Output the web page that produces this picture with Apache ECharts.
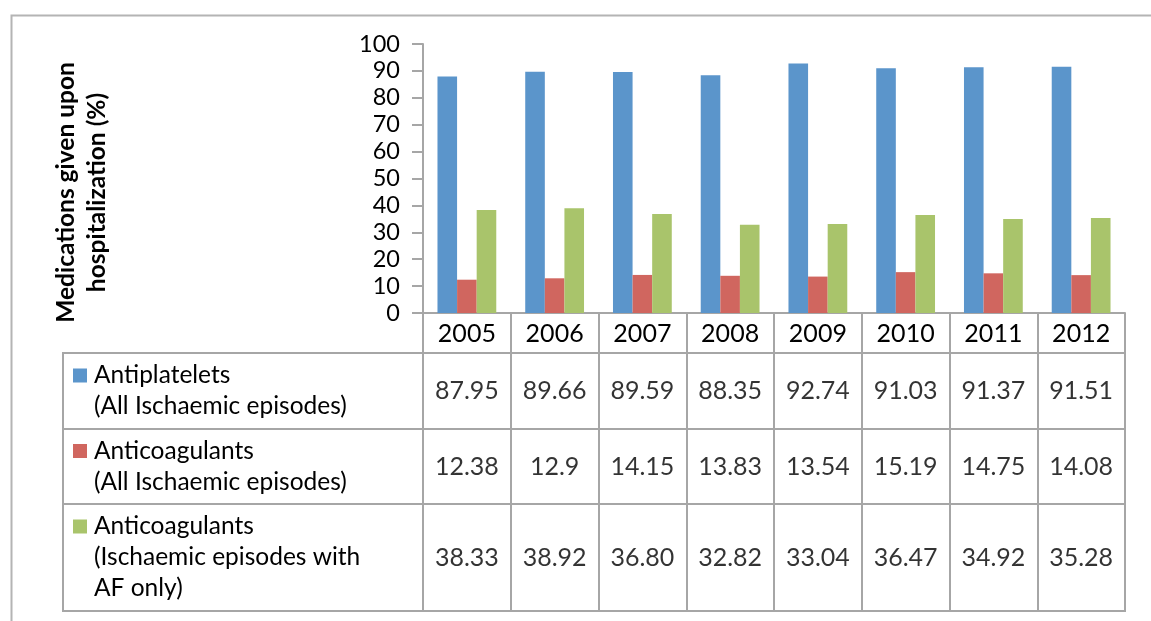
<!DOCTYPE html>
<html><head><meta charset="utf-8">
<script src="https://cdn.jsdelivr.net/npm/echarts@6/dist/echarts.min.js"></script>
<style>html,body{margin:0;padding:0;background:#fff}#c{width:1151px;height:621px}</style>
</head><body><div id="c"></div>
<script>
var years = ['2005','2006','2007','2008','2009','2010','2011','2012'];
var antiplatelets = [87.95, 89.66, 89.59, 88.35, 92.74, 91.03, 91.37, 91.51];
var anticoagAll = [12.38, 12.9, 14.15, 13.83, 13.54, 15.19, 14.75, 14.08];
var anticoagAF = [38.33, 38.92, 36.80, 32.82, 33.04, 36.47, 34.92, 35.28];
var rowLabels = [
  ['Antiplatelets', '(All Ischaemic episodes)'],
  ['Anticoagulants', '(All Ischaemic episodes)'],
  ['Anticoagulants', '(Ischaemic episodes with', 'AF only)']
];
var rowDecimals = [2, null, 2];
var colors = ['#5B95CB', '#D0665F', '#A9C46B'];
var yTitle = 'Medications given upon\nhospitalization (%)';

var FONT = 'Lato';
var GRAY = '#A6A6A6';
var seriesData = [antiplatelets, anticoagAll, anticoagAF];

var rowTops = [353, 429, 504];
var rowHeights = [76, 75, 107];

var grids = [{left: 423, right: 26, top: 44, height: 269}];
var xAxes = [{
  type: 'category', data: years, gridIndex: 0,
  axisLine: {lineStyle: {color: GRAY, width: 2}},
  axisTick: {show: true, length: 40, interval: 0, lineStyle: {color: GRAY, width: 2}},
  axisLabel: {color: '#000', fontSize: 25, fontFamily: FONT, margin: 21, verticalAlign: 'middle', interval: 0}
}];
var yAxes = [{
  type: 'value', gridIndex: 0, min: 0, max: 100, interval: 10,
  axisLine: {show: true, lineStyle: {color: GRAY, width: 2}},
  axisTick: {show: true, length: 11, lineStyle: {color: GRAY, width: 2}},
  splitLine: {show: false},
  axisLabel: {color: '#000', fontSize: 23.5, fontFamily: FONT, margin: 23},
  name: yTitle, nameLocation: 'middle', nameRotate: 90, nameGap: 310,
  nameTextStyle: {color: '#000', fontSize: 24.5, fontWeight: 'bold', fontFamily: FONT, lineHeight: 31, padding: [0, 28, 0, 0]}
}];
var series = [];
for (var s = 0; s < 3; s++) {
  series.push({
    type: 'bar', name: rowLabels[s].join(' '), xAxisIndex: 0, yAxisIndex: 0,
    data: seriesData[s], barGap: '0%', barCategoryGap: '33%',
    itemStyle: {color: colors[s]}
  });
}
for (var r = 0; r < 3; r++) {
  var gi = r + 1;
  grids.push({left: 423, right: 26, top: rowTops[r], height: rowHeights[r], show: true, borderColor: GRAY, borderWidth: 2});
  xAxes.push({
    type: 'category', data: years, gridIndex: gi,
    axisLine: {show: false}, axisTick: {show: false}, axisLabel: {show: false},
    splitLine: {show: true, interval: 0, lineStyle: {color: GRAY, width: 2}}
  });
  var lines = rowLabels[r];
  var fmt = '{sq|}{gap|}{t|' + lines[0] + '}';
  for (var k = 1; k < lines.length; k++) fmt += '\n{sp|}{t|' + lines[k] + '}';
  var rich = {
    sq: {width: 14, height: 14, backgroundColor: colors[r]},
    gap: {width: 7},
    sp: {width: 21},
    t: {fontSize: 24.5, fontFamily: FONT, color: '#000', lineHeight: 31}
  };
  yAxes.push({
    type: 'category', data: [rowLabels[r].join(' ')], gridIndex: gi,
    axisLine: {show: false},
    axisTick: {show: true, length: 360, interval: 0, lineStyle: {color: GRAY, width: 2}},
    axisLabel: {show: true, align: 'left', margin: 350, verticalAlign: 'middle', formatter: (function (f) { return function () { return f; }; })(fmt), rich: rich}
  });
  (function (r) {
    series.push({
      type: 'scatter', xAxisIndex: gi, yAxisIndex: gi, symbolSize: 0,
      itemStyle: {color: 'rgba(0,0,0,0)'},
      data: years.map(function (y, i) { return [y, rowLabels[r].join(' '), seriesData[r][i]]; }),
      label: {show: true, position: 'inside', color: '#000', fontSize: 25, fontFamily: FONT,
        formatter: function (p) { var v = p.value[2]; return rowDecimals[r] == null ? String(v) : v.toFixed(rowDecimals[r]); }},
      silent: true
    });
  })(r);
}
// outer table frame
grids.push({left: 63, right: 26, top: 353, height: 258, show: true, borderColor: GRAY, borderWidth: 2});
xAxes.push({gridIndex: 4, type: 'value', show: false});
yAxes.push({gridIndex: 4, type: 'value', show: false});

var chart = echarts.init(document.getElementById('c'), null, {renderer: 'canvas'});
chart.setOption({
  animation: false,
  backgroundColor: '#fff',
  graphic: [{type: 'rect', left: 9, top: 13, shape: {width: 1200, height: 700}, style: {fill: 'none', stroke: '#B4B4B4', lineWidth: 2}, silent: true}],
  grid: grids, xAxis: xAxes, yAxis: yAxes, series: series
});
</script></body></html>
